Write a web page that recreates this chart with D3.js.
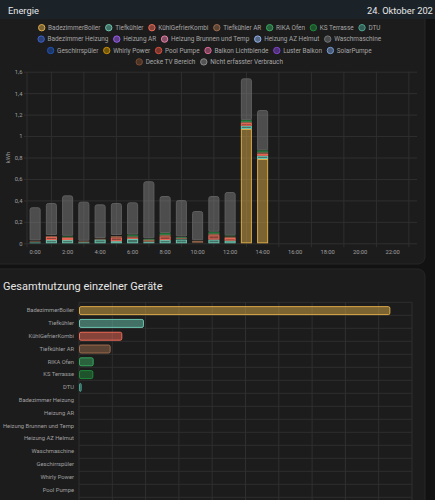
<!DOCTYPE html>
<html>
<head>
<meta charset="utf-8">
<script src="https://cdn.jsdelivr.net/npm/d3@7"></script>
<style>
body { margin: 0; background: #121212; overflow: hidden; }
svg { display: block; font-family: Roboto, sans-serif; }
</style>
</head>
<body>
<svg id="chart" width="435" height="500"></svg>
<script>
/* Energie dashboard: hourly stacked usage + total per device */

// hours of the day (x categories) and the tick labels shown
const hours = [0,1,2,3,4,5,6,7,8,9,10,11,12,13,14,15,16,17,18,19,20,21,22,23];
const hourTicks = [0,2,4,6,8,10,12,14,16,18,20,22];
const hourTickLabels = ["0:00","2:00","4:00","6:00","8:00","10:00","12:00","14:00","16:00","18:00","20:00","22:00"];

// hourly values in kWh (hours 0..14, the rest of the day has no data yet)
const badezimmerBoiler = [0,0,0,0,0,0,0,0,0,0,0,0,0,1.066,0.786];
const tiefkuehler      = [0.008,0.03,0.03,0.01,0.035,0.02,0.04,0.015,0.03,0.035,0.005,0.035,0.025,0.03,0.03];
const kuehlGefrier     = [0.005,0.03,0.02,0,0,0.035,0.015,0,0.035,0.005,0,0.04,0.025,0.025,0.02];
const tiefkuehlerAR    = [0.006,0.008,0.008,0.008,0.008,0.012,0.01,0.02,0.015,0.012,0.018,0.016,0.012,0.012,0.013];
const rikaOfen         = [0.003,0.004,0.005,0.002,0.002,0.005,0.008,0.006,0.007,0.006,0.003,0.008,0.005,0.008,0.008];
const ksTerrasse       = [0.004,0.004,0.006,0.003,0.003,0.005,0.008,0.005,0.008,0.005,0.002,0.008,0.006,0.008,0.01];
const dtu              = [0.001,0.001,0.001,0.001,0.001,0.001,0.001,0.001,0.001,0.001,0.001,0.001,0.001,0.001,0.001];
const untracked        = [0.309,0.299,0.377,0.364,0.314,0.298,0.300,0.531,0.345,0.340,0.272,0.333,0.404,0.388,0.375];

// legend entries
const legendNames = ["BadezimmerBoiler","Tiefkühler","KühlGefrierKombi","Tiefkühler AR","RIKA Ofen","KS Terrasse","DTU",
  "Badezimmer Heizung","Heizung AR","Heizung Brunnen und Temp","Heizung AZ Helmut","Waschmaschine",
  "Geschirrspüler","Whirly Power","Pool Pumpe","Balkon Lichtblende","Luster Balkon","SolarPumpe",
  "Decke TV Bereich","Nicht erfasster Verbrauch"];

// totals per device for the lower chart (kWh)
const deviceNames = legendNames.slice(0, 19);
const deviceTotals = [1.87,0.39,0.26,0.19,0.088,0.086,0.016,0,0,0,0,0,0,0,0,0,0,0,0];
const totalTicks = [0,0.2,0.4,0.6,0.8,1,1.2,1.4,1.6,1.8,2];

// colours, same order as legendNames
const colors = ["#dcaa48","#6cc5b0","#f06a58","#9c6b4e","#36a85e","#1f8a3c","#49a28f",
  "#3c63cc","#9c5ff0","#e882aa","#92b4ee","#74787a",
  "#1f52b5","#c99000","#d84f3e","#d96895","#8043ce","#7599d1",
  "#7a4c31","#8a8a8a"];

const svg = d3.select("#chart");
const W = 435;
const fsLegend = 6.4, fsAxis = 5.8;

// ---- backgrounds
svg.append("rect").attr("width", W).attr("height", 500).attr("fill", "#121212");
svg.append("rect").attr("x", -10).attr("y", 6).attr("width", 435).attr("height", 258)
  .attr("rx", 7).attr("fill", "#1c1c1c").attr("stroke", "#262626");
svg.append("rect").attr("x", -10).attr("y", 269).attr("width", 435).attr("height", 260)
  .attr("rx", 7).attr("fill", "#1c1c1c").attr("stroke", "#262626");
svg.append("rect").attr("width", W).attr("height", 19).attr("fill", "#1b2329");

svg.append("text").text("Energie").attr("x", 8).attr("y", 13.6)
  .attr("fill", "#e6e6e6").attr("font-size", 9.3);
svg.append("text").text("24. Oktober 202").attr("x", 367).attr("y", 13.6)
  .attr("fill", "#e6e6e6").attr("font-size", 9.3);

// ---- legend (rows as the dashboard wraps them)
const rowSizes = [7, 5, 6, 2];
const pad = 5.2, cx = 209.5;
const legend = svg.append("g").attr("font-size", fsLegend).attr("fill", "#a6a6a6");
const probe = legend.append("text");
const items = legendNames.map((n, i) => {
  probe.text(n);
  return {name: n, color: colors[i], w: 6.4 + 3.2 + probe.node().getComputedTextLength()};
});
probe.remove();
let start = 0;
rowSizes.forEach((n, r) => {
  const row = items.slice(start, start + n);
  start += n;
  const tw = d3.sum(row, d => d.w) + pad * (row.length - 1);
  let xx = cx - tw / 2;
  const yy = 27.7 + r * 11.4;
  row.forEach(it => {
    legend.append("circle").attr("cx", xx + 3.2).attr("cy", yy).attr("r", 3.2)
      .attr("fill", it.color).attr("fill-opacity", 0.5).attr("stroke", it.color).attr("stroke-width", 1);
    legend.append("text").text(it.name).attr("x", xx + 9.6).attr("y", yy)
      .attr("dy", "0.35em");
    xx += it.w + pad;
  });
});

// ---- hourly stacked chart
const plot = {left: 27, right: 417, top: 71.7, bottom: 243.3};

const x = d3.scaleBand()
  .domain(hours)
  .range([plot.left, plot.right])
  .paddingInner(0.32)
  .paddingOuter(0.16);

const y = d3.scaleLinear()
  .domain([0, 1.6])
  .range([plot.bottom, plot.top]);

const fmt = d => String(+d.toFixed(1)).replace(".", ",");

// horizontal grid + y labels
svg.append("g")
  .attr("transform", `translate(${plot.right},0)`)
  .call(d3.axisLeft(y).tickValues([0,0.2,0.4,0.6,0.8,1,1.2,1.4,1.6])
    .tickSize(plot.right - 24).tickPadding(1.6).tickFormat(fmt))
  .call(g => g.select(".domain").remove())
  .call(g => g.selectAll("line").attr("stroke", "#2f2f2f"))
  .call(g => g.selectAll("text").attr("fill", "#a0a0a0").attr("font-size", fsAxis).attr("font-family", "Roboto, sans-serif"));

// vertical grid lines sit halfway between the labelled hours
const vgrid = svg.append("g").attr("stroke", "#2f2f2f");
vgrid.append("line").attr("x1", plot.left).attr("x2", plot.left).attr("y1", plot.top).attr("y2", plot.bottom + 4);
vgrid.selectAll(".vg").data(hours.filter(h => h % 2 === 1)).join("line")
  .attr("x1", d => x(d) + x.bandwidth() / 2).attr("x2", d => x(d) + x.bandwidth() / 2)
  .attr("y1", plot.top).attr("y2", plot.bottom + 4);

// x labels
svg.append("g")
  .attr("transform", `translate(0,${plot.bottom})`)
  .call(d3.axisBottom(x).tickValues(hourTicks).tickSize(0).tickPadding(6.6)
    .tickFormat(d => hourTickLabels[hourTicks.indexOf(d)]))
  .call(g => g.select(".domain").remove())
  .call(g => g.selectAll("text").attr("fill", "#a0a0a0").attr("font-size", fsAxis).attr("font-family", "Roboto, sans-serif"));

svg.append("text").text("kWh")
  .attr("transform", `translate(9.5,${(plot.top + plot.bottom) / 2}) rotate(-90)`)
  .attr("text-anchor", "middle").attr("fill", "#a0a0a0").attr("font-size", fsAxis);

// stack data
const keys = ["BadezimmerBoiler","Tiefkühler","KühlGefrierKombi","Tiefkühler AR","RIKA Ofen","KS Terrasse","DTU","Nicht erfasster Verbrauch"];
const seriesValues = [badezimmerBoiler, tiefkuehler, kuehlGefrier, tiefkuehlerAR, rikaOfen, ksTerrasse, dtu, untracked];
const rowsData = untracked.map((_, i) => {
  const o = {hour: hours[i]};
  keys.forEach((k, j) => o[k] = seriesValues[j][i]);
  return o;
});
const stacked = d3.stack().keys(keys)(rowsData);

const bars = svg.append("g");
stacked.forEach(layer => {
  const c = colors[legendNames.indexOf(layer.key)];
  const isTop = layer.key === "Nicht erfasster Verbrauch";
  layer.forEach(seg => {
    const x0 = x(seg.data.hour), bw = x.bandwidth();
    const yTop = y(seg[1]), yBot = y(seg[0]);
    const h = yBot - yTop;
    if (h < 0.6) return;
    if (h < 2) {
      bars.append("rect").attr("x", x0).attr("y", yTop).attr("width", bw).attr("height", h)
        .attr("fill", c).attr("opacity", 0.85);
      return;
    }
    if (isTop) {
      const r = 2, l = x0 + 0.5, rr = x0 + bw - 0.5, t = yTop + 0.5, b = yBot - 0.5;
      bars.append("path")
        .attr("d", `M${l},${b}V${t + r}Q${l},${t} ${l + r},${t}H${rr - r}Q${rr},${t} ${rr},${t + r}V${b}Z`)
        .attr("fill", c).attr("fill-opacity", 0.45).attr("stroke", "#5e5e5e").attr("stroke-width", 1);
    } else {
      bars.append("rect").attr("x", x0 + 0.5).attr("y", yTop + 0.5).attr("width", bw - 1).attr("height", h - 1)
        .attr("fill", c).attr("fill-opacity", 0.5).attr("stroke", c).attr("stroke-width", 1);
    }
  });
});

// ---- lower chart: total per device
svg.append("text").text("Gesamtnutzung einzelner Geräte").attr("x", 3).attr("y", 290)
  .attr("fill", "#e6e6e6").attr("font-size", 11);

const p2 = {left: 79, right: 412, top: 302.3, step: 13};
const yb = d3.scaleBand()
  .domain(deviceNames)
  .range([p2.top, p2.top + p2.step * deviceNames.length])
  .padding(0.3);
const xb = d3.scaleLinear().domain([0, 2]).range([p2.left, p2.right]);
const p2bottom = p2.top + p2.step * deviceNames.length;

const grid2 = svg.append("g").attr("stroke", "#2f2f2f");
grid2.selectAll(".h").data(d3.range(deviceNames.length + 1)).join("line")
  .attr("x1", p2.left).attr("x2", p2.right)
  .attr("y1", d => p2.top + d * p2.step).attr("y2", d => p2.top + d * p2.step);
grid2.selectAll(".v").data(totalTicks).join("line")
  .attr("x1", d => xb(d)).attr("x2", d => xb(d))
  .attr("y1", p2.top).attr("y2", p2bottom);

svg.append("g")
  .attr("transform", `translate(${p2.left},0)`)
  .call(d3.axisLeft(yb).tickSize(0).tickPadding(5))
  .call(g => g.select(".domain").remove())
  .call(g => g.selectAll(".tick").filter(d => yb(d) + yb.bandwidth() / 2 > 496).remove()) // below the visible window
  .call(g => g.selectAll("text").attr("fill", "#a0a0a0").attr("font-size", fsAxis).attr("font-family", "Roboto, sans-serif"));

svg.append("g").selectAll("rect")
  .data(deviceNames.map((n, i) => ({name: n, v: deviceTotals[i], c: colors[i]})).filter(d => d.v > 0))
  .join("rect")
  .attr("x", xb(0) + 0.5)
  .attr("y", d => yb(d.name) + 0.5)
  .attr("width", d => Math.max(xb(d.v) - xb(0) - 1, 1))
  .attr("height", yb.bandwidth() - 1)
  .attr("rx", 1.5)
  .attr("fill", d => d.c).attr("fill-opacity", 0.5)
  .attr("stroke", d => d.c).attr("stroke-width", 1);
</script>
</body>
</html>
